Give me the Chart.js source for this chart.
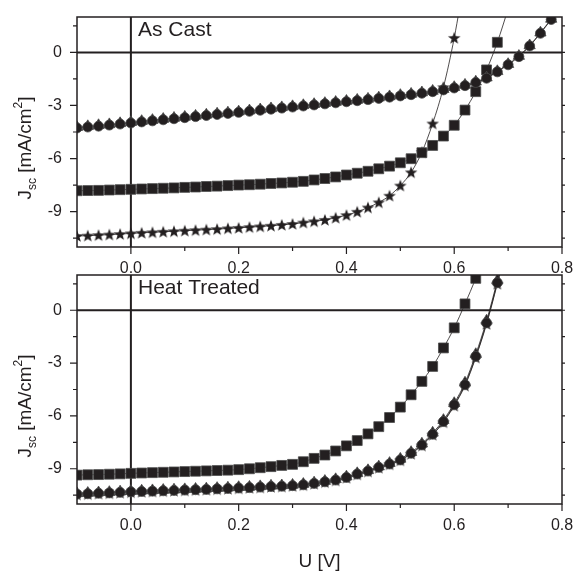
<!DOCTYPE html>
<html>
<head>
<meta charset="utf-8">
<script src="https://cdn.jsdelivr.net/npm/chart.js"></script>
<style>
  html, body { margin: 0; padding: 0; background: #fff; }
  #wrap { position: relative; width: 575px; height: 571px; }
  canvas { position: absolute; left: 0; }
  #cTop { top: 0; }
  #cBottom { top: 258px; }
</style>
</head>
<body>
<div id="wrap">
  <canvas id="cTop" width="575" height="285"></canvas>
  <canvas id="cBottom" width="575" height="313"></canvas>
</div>
<script>
// voltage grid (V)
const volts = [-0.10, -0.08, -0.06, -0.04, -0.02, 0.00, 0.02, 0.04, 0.06, 0.08, 0.10, 0.12, 0.14, 0.16, 0.18,
  0.20, 0.22, 0.24, 0.26, 0.28, 0.30, 0.32, 0.34, 0.36, 0.38, 0.40, 0.42, 0.44, 0.46, 0.48, 0.50, 0.52, 0.54,
  0.56, 0.58, 0.60, 0.62, 0.64, 0.66, 0.68, 0.70, 0.72, 0.74, 0.76, 0.78];

// As Cast, J [mA/cm2]
const castSquares = [-7.82, -7.81, -7.80, -7.78, -7.76, -7.74, -7.72, -7.70, -7.68, -7.66, -7.63, -7.61, -7.58,
  -7.56, -7.53, -7.50, -7.48, -7.45, -7.41, -7.38, -7.34, -7.29, -7.21, -7.13, -7.04, -6.93, -6.83, -6.72, -6.58,
  -6.43, -6.24, -6.01, -5.67, -5.26, -4.73, -4.12, -3.26, -2.22, -0.99, 0.57, 2.45];
const castCircles = [-4.27, -4.22, -4.17, -4.11, -4.05, -3.99, -3.93, -3.87, -3.81, -3.75, -3.69, -3.63, -3.57,
  -3.51, -3.45, -3.39, -3.33, -3.27, -3.21, -3.15, -3.09, -3.03, -2.97, -2.91, -2.85, -2.79, -2.73, -2.67, -2.60,
  -2.53, -2.46, -2.39, -2.31, -2.22, -2.12, -2.01, -1.88, -1.70, -1.46, -1.10, -0.70, -0.24, 0.36, 1.08, 1.86];
const castTriangles = [-4.23, -4.18, -4.12, -4.07, -4.01, -3.95, -3.89, -3.83, -3.77, -3.71, -3.65, -3.59, -3.53,
  -3.47, -3.41, -3.35, -3.29, -3.23, -3.17, -3.11, -3.05, -2.99, -2.93, -2.87, -2.81, -2.75, -2.69, -2.63, -2.56,
  -2.49, -2.42, -2.35, -2.27, -2.18, -2.08, -1.97, -1.84, -1.66, -1.43, -1.07, -0.67, -0.21, 0.39, 1.11, 1.89];
const castStars = [-10.38, -10.36, -10.33, -10.30, -10.27, -10.23, -10.20, -10.17, -10.14, -10.11, -10.08, -10.05,
  -10.02, -9.99, -9.95, -9.92, -9.88, -9.84, -9.80, -9.75, -9.70, -9.62, -9.55, -9.47, -9.35, -9.20, -9.01, -8.77,
  -8.48, -8.10, -7.53, -6.78, -5.64, -4.02, -1.97, 0.82, 4.30];

// Heat Treated, J [mA/cm2]
const heatSquares = [-9.36, -9.34, -9.33, -9.31, -9.29, -9.26, -9.24, -9.22, -9.20, -9.18, -9.16, -9.14, -9.12,
  -9.10, -9.08, -9.05, -9.00, -8.94, -8.88, -8.81, -8.75, -8.60, -8.41, -8.22, -7.99, -7.70, -7.40, -7.02, -6.61,
  -6.09, -5.50, -4.80, -4.04, -3.19, -2.14, -1.00, 0.36, 1.81, 3.40];
const heatCircles = [-10.44, -10.42, -10.39, -10.37, -10.34, -10.31, -10.29, -10.27, -10.25, -10.23, -10.21,
  -10.19, -10.17, -10.14, -10.12, -10.09, -10.07, -10.04, -10.01, -9.99, -9.96, -9.91, -9.83, -9.74, -9.64, -9.49,
  -9.30, -9.13, -8.92, -8.73, -8.50, -8.12, -7.65, -7.04, -6.32, -5.37, -4.23, -2.62, -0.72, 1.56, 4.00];
const heatTriangles = [-10.40, -10.38, -10.35, -10.33, -10.30, -10.27, -10.25, -10.23, -10.21, -10.19, -10.17,
  -10.15, -10.13, -10.10, -10.08, -10.05, -10.03, -10.00, -9.97, -9.95, -9.92, -9.87, -9.79, -9.70, -9.60, -9.45,
  -9.26, -9.09, -8.88, -8.68, -8.44, -8.06, -7.58, -6.96, -6.24, -5.28, -4.12, -2.50, -0.60, 1.68, 4.10];
const heatStars = [-10.46, -10.44, -10.41, -10.39, -10.36, -10.33, -10.31, -10.29, -10.27, -10.25, -10.23,
  -10.21, -10.19, -10.16, -10.14, -10.11, -10.09, -10.06, -10.03, -10.01, -9.98, -9.93, -9.85, -9.76, -9.66, -9.51,
  -9.32, -9.15, -8.94, -8.75, -8.52, -8.15, -7.68, -7.07, -6.36, -5.42, -4.28, -2.68, -0.78, 1.50, 3.95];

// axis ticks
const xMajor = [0.0, 0.2, 0.4, 0.6, 0.8];
const xMinor = [0.1, 0.3, 0.5, 0.7];
const yMajor = [-9, -6, -3, 0];
const yMinor = [-10.5, -7.5, -4.5, -1.5, 1.5];

const ink = "#231f20";
const font = "'Liberation Sans', Arial, sans-serif";

// filled five-point star marker
const starImg = document.createElement("canvas");
starImg.width = 14;
starImg.height = 14;
(function () {
    const c = starImg.getContext("2d");
    c.fillStyle = ink;
    c.beginPath();
    for (let i = 0; i < 10; i++) {
        const r = i % 2 === 0 ? 6.6 : 2.7;
        const a = -Math.PI / 2 + i * Math.PI / 5;
        const px = 7 + r * Math.cos(a), py = 7.5 + r * Math.sin(a);
        if (i === 0) c.moveTo(px, py); else c.lineTo(px, py);
    }
    c.closePath();
    c.fill();
})();

const toPoints = (ys) => ys.map((y, i) => ({ x: volts[i], y: y }));

const series = (ys, style, radius) => ({
    data: toPoints(ys),
    showLine: true,
    borderColor: ink,
    borderWidth: 0.8,
    cubicInterpolationMode: "monotone",
    pointStyle: style,
    pointRadius: radius,
    pointBackgroundColor: ink,
    pointBorderColor: "#4a4a4a",
    pointBorderWidth: 0.8,
    clip: 0,
});

// frame, zero lines, minor ticks and labels
const decor = {
    id: "decor",
    beforeDatasetsDraw(chart) {
        const { ctx, chartArea: a, scales } = chart;
        const x0 = scales.x.getPixelForValue(0);
        const y0 = scales.y.getPixelForValue(0);
        ctx.save();
        ctx.strokeStyle = ink;
        ctx.lineWidth = 2;
        ctx.beginPath();
        ctx.moveTo(x0, a.top); ctx.lineTo(x0, a.bottom);
        ctx.moveTo(a.left, y0); ctx.lineTo(a.right, y0);
        ctx.stroke();
        ctx.restore();
    },
    afterDatasetsDraw(chart) {
        const { ctx, chartArea: a, scales } = chart;
        ctx.save();
        ctx.strokeStyle = ink;
        ctx.lineWidth = 1.5;
        ctx.strokeRect(a.left, a.top, a.right - a.left, a.bottom - a.top);
        ctx.lineWidth = 1.2;
        ctx.beginPath();
        xMajor.forEach(v => { const p = scales.x.getPixelForValue(v); ctx.moveTo(p, a.bottom); ctx.lineTo(p, a.bottom + 7); });
        xMinor.forEach(v => { const p = scales.x.getPixelForValue(v); ctx.moveTo(p, a.bottom); ctx.lineTo(p, a.bottom + 4); });
        yMajor.forEach(v => {
            const p = scales.y.getPixelForValue(v);
            ctx.moveTo(a.left - 7, p); ctx.lineTo(a.left, p);
            ctx.moveTo(a.right, p); ctx.lineTo(a.right + 3, p);
        });
        yMinor.forEach(v => {
            const p = scales.y.getPixelForValue(v);
            ctx.moveTo(a.left - 4, p); ctx.lineTo(a.left, p);
            ctx.moveTo(a.right, p); ctx.lineTo(a.right + 3, p);
        });
        ctx.stroke();
        ctx.restore();
    },
    afterDraw(chart) {
        const { ctx, chartArea: a } = chart;
        const o = chart.options.plugins.decor;
        ctx.save();
        ctx.fillStyle = ink;
        ctx.textBaseline = "alphabetic";
        ctx.textAlign = "left";
        ctx.font = "21px " + font;
        ctx.fillText(o.label, a.left + 61, a.top + 19);

        // y title: J_sc [mA/cm^2]
        const parts = [
            { t: "J", f: "19px " + font, dy: 0 },
            { t: "sc", f: "12px " + font, dy: 5 },
            { t: " [mA/cm", f: "19px " + font, dy: 0 },
            { t: "2", f: "12px " + font, dy: -9 },
            { t: "]", f: "19px " + font, dy: 0 },
        ];
        let total = 0;
        parts.forEach(p => { ctx.font = p.f; p.w = ctx.measureText(p.t).width; total += p.w; });
        ctx.translate(31, a.top + 131);
        ctx.rotate(-Math.PI / 2);
        let cx = -total / 2;
        parts.forEach(p => { ctx.font = p.f; ctx.fillText(p.t, cx, p.dy); cx += p.w; });
        ctx.setTransform(1, 0, 0, 1, 0, 0);

        if (o.xTitle) {
            ctx.font = "19px " + font;
            ctx.textAlign = "center";
            ctx.fillText(o.xTitle, (a.left + a.right) / 2, a.bottom + 63);
        }
        ctx.restore();
    }
};

function makeChart(id, sets, label, xTitle, xHeight) {
    return new Chart(document.getElementById(id), {
        type: "scatter",
        data: { datasets: sets },
        options: {
            responsive: false,
            animation: false,
            layout: { padding: { left: 0, right: 13, top: 17, bottom: 0 } },
            plugins: {
                legend: { display: false },
                tooltip: { enabled: false },
                decor: { label: label, xTitle: xTitle },
            },
            scales: {
                x: {
                    type: "linear",
                    min: -0.1,
                    max: 0.8,
                    grid: { display: false, drawTicks: false },
                    border: { display: false },
                    afterBuildTicks: s => { s.ticks = xMajor.map(v => ({ value: v })); },
                    afterFit: s => {
                        s.height = xHeight;
                        s.paddingLeft = 0; s.paddingRight = 0;
                    },
                    ticks: {
                        color: ink,
                        padding: 12,
                        maxRotation: 0,
                        font: { family: font, size: 16 },
                        callback: v => v.toFixed(1),
                    },
                },
                y: {
                    type: "linear",
                    min: -11,
                    max: 2,
                    grid: { display: false, drawTicks: false },
                    border: { display: false },
                    afterBuildTicks: s => { s.ticks = yMajor.map(v => ({ value: v })); },
                    afterFit: s => {
                        s.width = 77;
                        s.paddingTop = 0; s.paddingBottom = 0;
                    },
                    ticks: {
                        color: ink,
                        padding: 15,
                        font: { family: font, size: 16 },
                        callback: v => String(v),
                    },
                },
            },
        },
        plugins: [decor],
    });
}

makeChart("cTop", [
    series(castCircles, "circle", 5),
    series(castTriangles, "triangle", 6.5),
    series(castSquares, "rect", 7),
    series(castStars, starImg, 6),
], "As Cast", null, 38);

makeChart("cBottom", [
    series(heatCircles, "circle", 5),
    series(heatTriangles, "triangle", 6.5),
    series(heatStars, starImg, 6),
    series(heatSquares, "rect", 7),
], "Heat Treated", "U [V]", 67);
</script>
</body>
</html>
